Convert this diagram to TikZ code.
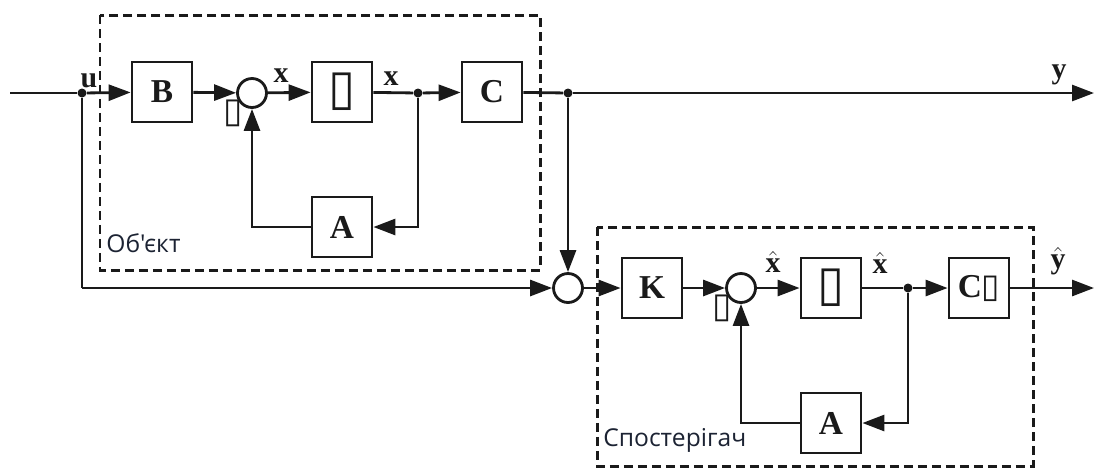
\documentclass[tikz,border=0pt]{standalone}
\usepackage{fontspec}
\setmainfont{Liberation Serif}
\newfontfamily\uafont{Open Sans}
\newfontfamily\glyphfont{DejaVu Sans}
\usepackage{tikz}
\usetikzlibrary{arrows.meta,positioning,calc}
\definecolor{ink}{HTML}{1A1A1A}
\definecolor{caption}{HTML}{1C2333}
\definecolor{paper}{HTML}{FFFFFF}
\tikzset{
  blk/.style={draw=ink,line width=1.6pt,minimum width=1.2cm,minimum height=1.2cm,inner sep=0pt,fill=paper,font=\fontsize{19}{22}\selectfont\bfseries,text=ink},
  sum/.style={draw=ink,line width=1.6pt,circle,minimum size=0.58cm,inner sep=0pt,fill=paper},
  dot/.style={circle,fill=ink,minimum size=0.18cm,inner sep=0pt},
  frame/.style={draw=ink,line width=1.7pt,dash pattern=on 0.18cm off 0.1cm},
  sig/.style={font=\fontsize{17}{19}\selectfont\bfseries,text=ink,inner sep=1pt},
  tofu/.style={font=\glyphfont\fontsize{20}{20}\selectfont,text=ink,inner sep=0pt},
  tag/.style={font=\uafont\fontsize{14}{16}\selectfont,text=caption,anchor=west,inner sep=0pt},
  ln/.style={draw=ink,line width=1.6pt},
  fl/.style={ln,-{Triangle[length=0.44cm,width=0.32cm]}},
  >=Triangle}

\begin{document}
\begin{tikzpicture}[x=0.02cm,y=-0.02cm]
\useasboundingbox (0,0) rectangle (1097,468);

\draw[frame] (100,15) rectangle (540,270);
\draw[frame] (597,227) rectangle (1033,466);
\node[tag] (obj) at (106,243) {Об'єкт};
\node[tag] (obs) at (603,440) {Спостерігач};

\coordinate (in) at (10,93);
\node[dot] (u) at (82,93) {};
\node[blk] (B) at (162,92) {B};
\node[sum] (s1) at (252,93) {};
\node[blk] (I1) at (342,92) {\glyphfont\fontsize{28}{28}\selectfont\mdseries ▯};
\node[dot] (j1) at (418,93) {};
\node[blk] (C) at (492,92) {C};
\node[blk] (A1) at (342,227) {A};
\node[dot] (j2) at (568,93) {};
\coordinate (yend) at (1094,93);
\coordinate (down) at (82,288);

\node[sum] (s2) at (568,288) {};
\node[blk] (K) at (652,288) {K};
\node[sum] (s3) at (741,288) {};
\node[blk] (I2) at (831,288) {\glyphfont\fontsize{28}{28}\selectfont\mdseries ▯};
\node[dot] (j3) at (908,288) {};
\node[blk] (C2) at (979,288) {C{\glyphfont\fontsize{19}{19}\selectfont\mdseries ▯}};
\node[blk] (A2) at (831,423) {A};
\coordinate (yhend) at (1094,288);

\node[sig] (lu) at (89,81) {u};
\node[sig] (lx1) at (281,76) {x};
\node[sig] (lx2) at (391,79) {x};
\node[sig] (ly) at (1059,75) {y};
\node[sig] (lxh1) at (773,262) {$\hat{\textbf{x}}$};
\node[sig] (lxh2) at (880,263) {$\hat{\textbf{x}}$};
\node[sig] (lyh) at (1058,261) {$\hat{\textbf{y}}$};
\node[tofu] (m1) at (233,113) {▯};
\node[tofu] (m2) at (722,308) {▯};

\draw[ln] (in) -- (u);
\draw[fl] (u) -- (B);
\draw[fl] (B) -- (s1);
\draw[fl] (s1) -- (I1);
\draw[ln] (I1) -- (j1);
\draw[fl] (j1) -- (C);
\draw[fl] (j1) |- (A1);
\draw[fl] (A1) -| (s1);
\draw[ln] (C) -- (j2);
\draw[fl] (j2) -- (yend);
\draw[fl] (j2) -- (s2);
\draw[ln] (u) -- (down);
\draw[fl] (down) -- (s2);

\draw[fl] (s2) -- (K);
\draw[fl] (K) -- (s3);
\draw[fl] (s3) -- (I2);
\draw[ln] (I2) -- (j3);
\draw[fl] (j3) -- (C2);
\draw[fl] (j3) |- (A2);
\draw[fl] (A2) -| (s3);
\draw[fl] (C2) -- (yhend);
\end{tikzpicture}
\end{document}
